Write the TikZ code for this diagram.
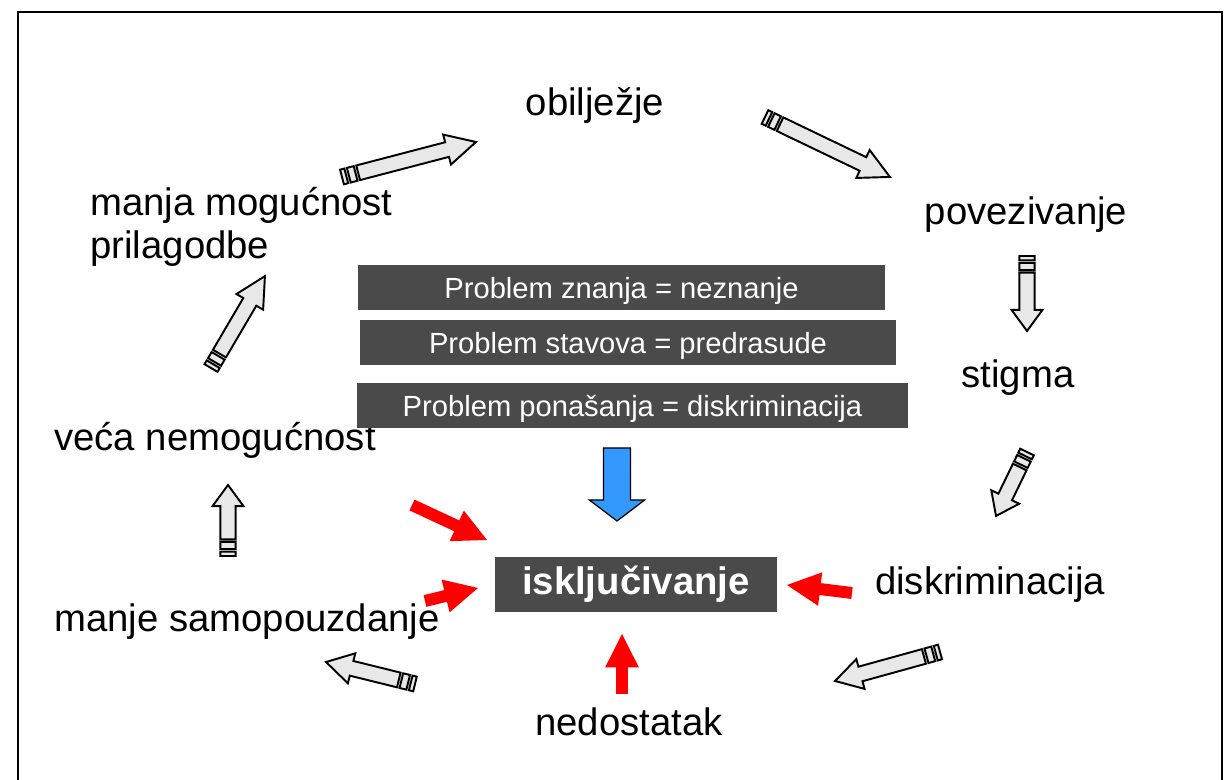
\documentclass[tikz,border=0pt]{standalone}
\usepackage{fontspec}
\setmainfont{Liberation Sans}
\usepackage{tikz}
\usetikzlibrary{calc}
\usepackage{xcolor}

\definecolor{boxgray}{HTML}{4A4A4A}
\definecolor{arrowblue}{HTML}{3399FF}
\definecolor{hollowgray}{HTML}{E8E8E8}

\newcommand\lblfont{\fontsize{21.8}{24.4}\selectfont}
\newcommand\boxfont{\fontsize{16.6}{20}\selectfont}

% block arrow: style, tail, tip, shaft half width, head half width, head length
\newcommand\blockarrow[6]{%
\path[#1] let \p1=($(#3)-(#2)$), \n1={atan2(\y1,\x1)}, \n2={veclen(\x1,\y1)} in
 [shift={(#2)}, rotate=\n1]
 (0pt,-#4) -- (\n2-#6,-#4) -- (\n2-#6,-#5) -- (\n2,0pt) -- (\n2-#6,#5) -- (\n2-#6,#4) -- (0pt,#4) -- cycle;}

% hollow arrow with striped tail: tail, tip, head length
\newcommand\stripearrow[3]{%
\path[hollowarrow] let \p1=($(#2)-(#1)$), \n1={atan2(\y1,\x1)}, \n2={veclen(\x1,\y1)} in
 [shift={(#1)}, rotate=\n1]
 (0pt,-4.3pt) -- (2.5pt,-4.3pt) -- (2.5pt,4.3pt) -- (0pt,4.3pt) -- cycle
 (4pt,-4.3pt) -- (8pt,-4.3pt) -- (8pt,4.3pt) -- (4pt,4.3pt) -- cycle
 (9.5pt,-4.3pt) -- (\n2-#3,-4.3pt) -- (\n2-#3,-8.8pt) -- (\n2,0pt) -- (\n2-#3,8.8pt) -- (\n2-#3,4.3pt) -- (9.5pt,4.3pt) -- cycle;}

\begin{document}
\begin{tikzpicture}[x=0.02cm,y=0.02cm,
  lbl/.style={font=\lblfont, inner sep=0pt},
  problembox/.style={fill=boxgray, text=white, font=\boxfont, minimum height=0.9cm, inner sep=0pt, text height=16pt, text depth=3.5pt},
  hollowarrow/.style={draw=black, fill=hollowgray, line width=1.1pt, line join=miter},
  redarrow/.style={fill=red},
  bluearrow/.style={draw=black, fill=arrowblue, line width=0.7pt}]

\useasboundingbox (0,0) rectangle (1226,780);
\draw[line width=0.8pt] (18,0) -- (18,768) -- (1222,768) -- (1222,0);

% cycle labels
\node[lbl] (obil) at (595,674) {obilježje};
\node[lbl] (povez) at (1026,565) {povezivanje};
\node[lbl] (stigma) at (1018,402) {stigma};
\node[lbl] (diskr) at (990,195) {diskriminacija};
\node[lbl] (nedost) at (629,58) {nedostatak};
\node[lbl] (samopouz) at (247,158) {manje samopouzdanje};
\node[lbl] (nemog) at (215,340) {veća nemogućnost};
\node[lbl, align=left, anchor=west] (prilag) at (90,553) {manja mogućnost\\prilagodbe};

% problem boxes
\node[problembox, minimum width=10.54cm] (znanje) at (621.5,492.5) {Problem znanja = neznanje};
\node[problembox, minimum width=10.72cm] (stavovi) at (628,437.5) {Problem stavova = predrasude};
\node[problembox, minimum width=11.02cm] (ponasanje) at (632.5,374.5) {Problem ponašanja = diskriminacija};
\node[problembox, minimum width=5.64cm, minimum height=1.1cm, text height=, text depth=, font=\lblfont\bfseries] (iskl) at (636,195.5) {isključivanje};

% arrow ends
\coordinate (h1a) at (342,603); \coordinate (h1b) at (476,638);
\coordinate (h2a) at (765,663); \coordinate (h2b) at (890,603);
\coordinate (h3a) at (1027,524); \coordinate (h3b) at (1027,449);
\coordinate (h4a) at (1027,328); \coordinate (h4b) at (996,264);
\coordinate (h5a) at (940,128); \coordinate (h5b) at (835,99);
\coordinate (h6a) at (415,96); \coordinate (h6b) at (326,118);
\coordinate (h7a) at (228,224); \coordinate (h7b) at (228,295);
\coordinate (h8a) at (211,412); \coordinate (h8b) at (265,504);

\stripearrow{h1a}{h1b}{17pt}
\stripearrow{h2a}{h2b}{17pt}
\stripearrow{h3a}{h3b}{12pt}
\stripearrow{h4a}{h4b}{12pt}
\stripearrow{h5a}{h5b}{15pt}
\stripearrow{h6a}{h6b}{15pt}
\stripearrow{h7a}{h7b}{12pt}
\stripearrow{h8a}{h8b}{17pt}

\coordinate (r1a) at (412,275); \coordinate (r1b) at (487,240);
\coordinate (r2a) at (425,179); \coordinate (r2b) at (478,192);
\coordinate (r3a) at (852,187); \coordinate (r3b) at (787,195);
\coordinate (r4a) at (622,86); \coordinate (r4b) at (622,146);
\coordinate (ba) at (617,332); \coordinate (bb) at (617,259);

\blockarrow{redarrow}{r1a}{r1b}{3.4pt}{9.6pt}{19pt}
\blockarrow{redarrow}{r2a}{r2b}{3.4pt}{9.6pt}{19pt}
\blockarrow{redarrow}{r3a}{r3b}{3.4pt}{9.6pt}{19pt}
\blockarrow{redarrow}{r4a}{r4b}{3.4pt}{9.6pt}{19pt}
\blockarrow{bluearrow}{ba}{bb}{7.7pt}{15.8pt}{12pt}

\end{tikzpicture}
\end{document}
